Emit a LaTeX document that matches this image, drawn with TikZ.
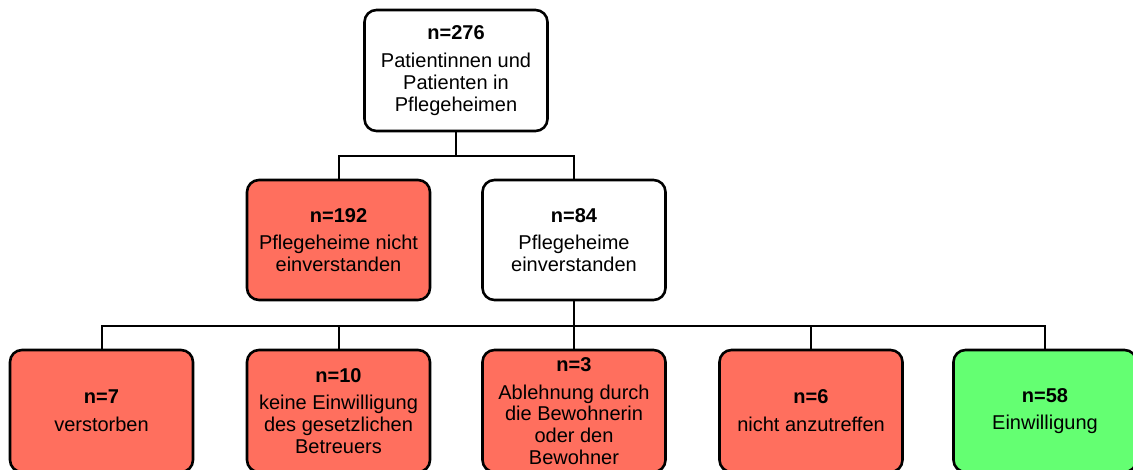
\documentclass[tikz,border=0pt]{standalone}
\usepackage{fontspec}
\setmainfont{Liberation Sans}
\definecolor{boxred}{RGB}{255,111,94}
\definecolor{boxgreen}{RGB}{100,255,114}
\tikzset{
  box/.style={draw=black, line width=2.6pt, rounded corners=12pt,
    minimum width=183pt, minimum height=120pt, align=center, inner sep=0pt,
    font=\fontsize{20}{21.8}\selectfont},
  redbox/.style={box, fill=boxred},
  greenbox/.style={box, fill=boxgreen},
  whitebox/.style={box, fill=white},
  conn/.style={line width=2pt}
}
\begin{document}
\begin{tikzpicture}[x=1pt,y=-1pt]
\useasboundingbox[fill=white] (0,0) rectangle (1133,470);
\node[whitebox, minimum height=121pt] (top) at (456,70.5) {\textbf{n=276}\\[6pt]Patientinnen und\\Patienten in\\Pflegeheimen};
\node[redbox] (n192) at (338.5,240) {\textbf{n=192}\\[6pt]Pflegeheime nicht\\einverstanden};
\node[whitebox] (n84) at (574,240) {\textbf{n=84}\\[6pt]Pflegeheime\\einverstanden};
\node[redbox, minimum height=122pt] (b1) at (101.5,411) {\textbf{n=7}\\[6pt]verstorben};
\node[redbox, minimum height=122pt] (b2) at (338.5,411) {\textbf{n=10}\\[6pt]keine Einwilligung\\des gesetzlichen\\Betreuers};
\node[redbox, minimum height=122pt] (b3) at (574,411) {\textbf{n=3}\\[6pt]Ablehnung durch\\die Bewohnerin\\oder den\\Bewohner};
\node[redbox, minimum height=122pt] (b4) at (811,411) {\textbf{n=6}\\[6pt]nicht anzutreffen};
\node[greenbox, minimum height=122pt] (b5) at (1045,411) {\textbf{n=58}\\[6pt]Einwilligung};
\path (top.south) ++(0,24) coordinate (j1);
\draw[conn] (top.south) -- (j1);
\draw[conn] (n192.north) |- (j1) -| (n84.north);
\path (n84.south) ++(0,25) coordinate (j2);
\draw[conn] (n84.south) -- (j2);
\draw[conn] (b1.north) |- (j2) -| (b5.north);
\draw[conn] (b2.north) -- (b2.north |- j2);
\draw[conn] (b3.north) -- (b3.north |- j2);
\draw[conn] (b4.north) -- (b4.north |- j2);
\end{tikzpicture}
\end{document}
